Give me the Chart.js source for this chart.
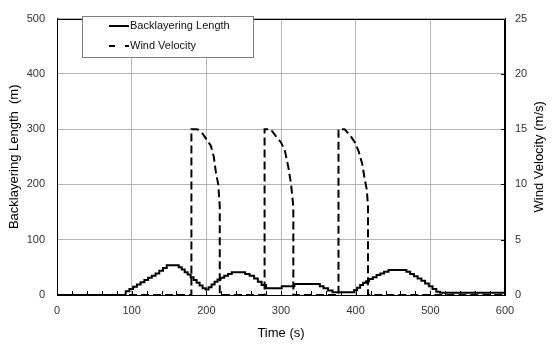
<!DOCTYPE html>
<html><head><meta charset="utf-8">
<script src="https://cdn.jsdelivr.net/npm/chart.js@4.4.1/dist/chart.umd.min.js"></script>
<style>html,body{margin:0;padding:0;background:#fff}</style>
</head><body>
<canvas id="c" width="556" height="345"></canvas>
<script>
// Backlayering length (m), step series: value holds from each time onward
const lengthTime  = [0, 92, 97, 102, 107, 112, 117, 122, 127, 132, 137, 142, 147, 163, 167, 171, 175, 179, 183, 187, 191, 195, 199, 203, 207, 211, 215, 219, 224, 229, 234, 252, 258, 264, 269, 274, 280, 301, 318, 352, 357, 363, 369, 398, 402, 406, 410, 414, 418, 423, 428, 433, 438, 444, 468, 473, 478, 483, 488, 493, 498, 503, 508, 513, 600];
const lengthValue = [0, 7, 11, 15, 19, 23, 27, 31, 35, 39, 44, 49, 54, 50, 46, 41, 37, 32, 27, 22, 17, 12, 10, 14, 19, 24, 28, 31, 35, 38, 41, 38, 35, 30, 24, 18, 12, 16, 20, 16, 12, 8, 5, 9, 13, 18, 22, 25, 29, 32, 36, 39, 42, 45, 42, 38, 34, 30, 26, 21, 16, 11, 6, 4, 4];

// Wind velocity (m/s)
const windTime  = [0, 180, 180, 188, 195, 200, 206, 210, 213, 216, 218, 218, 278, 278, 286, 294, 300, 305, 310, 313.5, 316.5, 316.5, 377, 377, 385, 393, 399, 404, 409, 412, 415, 416.5, 416.5, 600];
const windValue = [0, 0, 15, 15, 14.6, 14.1, 13.5, 12.5, 11, 10, 8, 0, 0, 15, 15, 14.3, 13.8, 13.1, 11.5, 10, 8, 0, 0, 15, 15, 14.4, 13.8, 13.0, 11.8, 10.5, 9.5, 8, 0, 0];

const xLabel = 'Time (s)';
const yLabel = 'Backlayering Length  (m)';
const y2Label = 'Wind Velocity (m/s)';
const seriesNames = ['Backlayering Length', 'Wind Velocity'];

const FONT = '"Liberation Sans", Arial, Helvetica, sans-serif';

const overlay = {
  id: 'overlay',
  afterDraw(chart) {
    const c = chart.ctx, a = chart.chartArea;
    const xs = chart.scales.x, y2 = chart.scales.y2;
    c.save();
    // frame
    c.strokeStyle = '#000'; c.lineWidth = 1;
    c.beginPath();
    c.moveTo(Math.round(a.left) + 0.5, Math.round(a.top) + 0.5);
    c.lineTo(Math.round(a.right) - 0.5, Math.round(a.top) + 0.5);
    c.lineTo(Math.round(a.right) - 0.5, Math.round(a.bottom));
    c.stroke();
    // inner minor ticks on x axis
    c.beginPath();
    for (let v = 20; v < 600; v += 20) {
      const px = Math.round(xs.getPixelForValue(v)) + 0.5;
      c.moveTo(px, a.bottom); c.lineTo(px, a.bottom - 4);
    }
    // inner ticks on right axis
    for (let v = 5; v < 25; v += 5) {
      const py = Math.round(y2.getPixelForValue(v)) + 0.5;
      c.moveTo(a.right, py); c.lineTo(a.right - 4, py);
    }
    c.stroke();
    // legend
    const lx = 82.5, ly = 16.5, lw = 171, lh = 41;
    c.fillStyle = '#fff';
    c.fillRect(lx, ly, lw, lh);
    c.strokeStyle = '#808080'; c.lineWidth = 1;
    c.strokeRect(lx, ly, lw, lh);
    c.strokeStyle = '#000'; c.lineWidth = 2;
    c.beginPath(); c.moveTo(109, 26); c.lineTo(129, 26); c.stroke();
    c.beginPath(); c.moveTo(109, 46); c.lineTo(115, 46); c.moveTo(125, 46); c.lineTo(129, 46); c.stroke();
    c.fillStyle = '#111';
    c.font = '11px ' + FONT;
    c.textAlign = 'left'; c.textBaseline = 'middle';
    c.fillText(seriesNames[0], 130, 26);
    c.fillText(seriesNames[1], 130, 46);
    // right axis title
    c.fillStyle = '#000';
    c.font = '13px ' + FONT;
    c.translate(539, (a.top + a.bottom) / 2);
    c.rotate(-Math.PI / 2);
    c.textAlign = 'center'; c.textBaseline = 'middle';
    c.fillText(y2Label, 0, 0);
    c.restore();
  }
};

new Chart(document.getElementById('c'), {
  type: 'line',
  data: {
    datasets: [
      {
        label: seriesNames[0],
        data: lengthTime.map((t, i) => ({ x: t, y: lengthValue[i] })),
        yAxisID: 'y', borderColor: '#000', borderWidth: 2,
        pointRadius: 0, stepped: 'before', fill: false
      },
      {
        label: seriesNames[1],
        data: windTime.map((t, i) => ({ x: t, y: windValue[i] })),
        yAxisID: 'y2', borderColor: '#000', borderWidth: 2, borderDash: [8, 4],
        pointRadius: 0, tension: 0, fill: false
      }
    ]
  },
  options: {
    responsive: false, animation: false, devicePixelRatio: 1,
    layout: { padding: { top: 12, left: 0, right: 0, bottom: 0 } },
    plugins: { legend: { display: false }, tooltip: { enabled: false } },
    scales: {
      x: {
        type: 'linear', min: 0, max: 600,
        ticks: { stepSize: 100, color: '#333', font: { family: FONT, size: 11 }, padding: 9, maxRotation: 0 },
        grid: { color: '#b5b5b5', drawTicks: false },
        border: { color: '#000', width: 1 },
        title: { display: true, text: xLabel, color: '#000', font: { family: FONT, size: 13 }, padding: { top: 0, bottom: 4 } },
        afterFit(s) { s.height = 50; }
      },
      y: {
        position: 'left', min: 0, max: 500,
        ticks: { stepSize: 100, color: '#333', font: { family: FONT, size: 11 }, padding: 12 },
        grid: { color: '#b5b5b5', drawTicks: false },
        border: { color: '#000', width: 1 },
        title: { display: true, text: yLabel, color: '#000', font: { family: FONT, size: 13 }, padding: { top: 7, bottom: 0 } },
        afterFit(s) { s.width = 57; }
      },
      y2: {
        position: 'right', min: 0, max: 25,
        ticks: { stepSize: 5, color: '#333', font: { family: FONT, size: 11 }, padding: 10 },
        grid: { drawOnChartArea: false, drawTicks: false },
        border: { color: '#000', width: 1 },
        afterFit(s) { s.width = 51; }
      }
    }
  },
  plugins: [overlay]
});
</script>
</body></html>
